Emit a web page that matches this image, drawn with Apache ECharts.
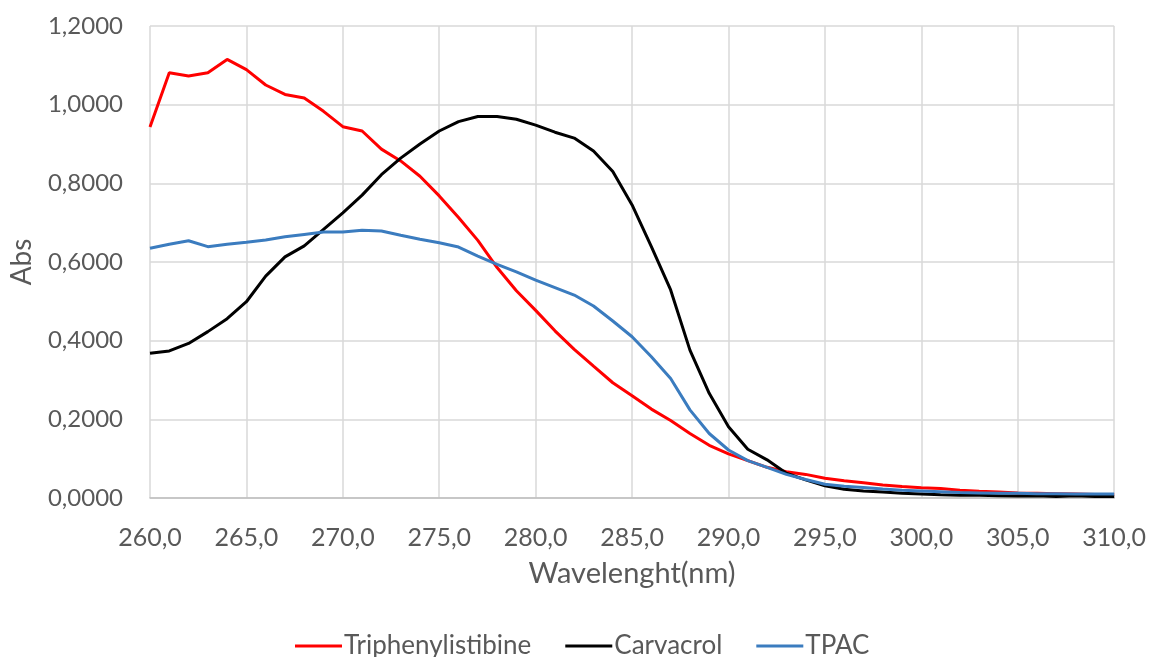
<!DOCTYPE html>
<html>
<head>
<meta charset="utf-8">
<script src="https://cdn.jsdelivr.net/npm/echarts@6/dist/echarts.min.js"></script>
<style>
html,body{margin:0;padding:0;background:#fff;}
#chart{width:1149px;height:657px;}
</style>
</head>
<body>
<div id="chart"></div>
<script>
var wavelengths = [260,261,262,263,264,265,266,267,268,269,270,271,272,273,274,275,276,277,278,279,280,281,282,283,284,285,286,287,288,289,290,291,292,293,294,295,296,297,298,299,300,301,302,303,304,305,306,307,308,309,310];
var triphenylistibine = [0.943,1.081,1.073,1.081,1.115,1.089,1.050,1.026,1.017,0.983,0.944,0.933,0.887,0.857,0.818,0.768,0.713,0.655,0.586,0.527,0.477,0.425,0.378,0.335,0.293,0.260,0.226,0.197,0.164,0.134,0.112,0.095,0.078,0.067,0.060,0.050,0.044,0.039,0.033,0.029,0.026,0.024,0.020,0.017,0.015,0.013,0.012,0.011,0.010,0.009,0.008];
var carvacrol = [0.368,0.374,0.393,0.423,0.456,0.499,0.564,0.613,0.641,0.683,0.725,0.770,0.822,0.864,0.900,0.933,0.957,0.970,0.970,0.963,0.948,0.930,0.915,0.882,0.830,0.745,0.639,0.529,0.376,0.266,0.181,0.124,0.097,0.063,0.046,0.031,0.022,0.018,0.015,0.012,0.010,0.008,0.007,0.007,0.006,0.005,0.006,0.004,0.006,0.004,0.004];
var tpac = [0.635,0.645,0.654,0.639,0.645,0.650,0.656,0.664,0.670,0.676,0.676,0.681,0.679,0.668,0.658,0.649,0.638,0.615,0.594,0.575,0.554,0.535,0.516,0.488,0.450,0.410,0.359,0.304,0.224,0.164,0.122,0.095,0.078,0.060,0.047,0.035,0.030,0.027,0.023,0.020,0.018,0.016,0.014,0.013,0.012,0.012,0.011,0.011,0.010,0.010,0.010];
var seriesNames = ['Triphenylistibine','Carvacrol','TPAC'];
var seriesColors = ['#FF0000','#000000','#3B7CBF'];
var xAxisTitle = 'Wavelenght(nm)';
var yAxisTitle = 'Abs';

function pairs(vals){ return wavelengths.map(function(w,i){ return [w, vals[i]]; }); }
var allValues = [triphenylistibine, carvacrol, tpac];

var FONT = 'Lato';
var chart = echarts.init(document.getElementById('chart'), null, {renderer:'canvas'});
chart.setOption({
  animation:false,
  backgroundColor:'#ffffff',
  textStyle:{fontFamily:FONT},
  grid:{left:149, right:34, top:26, bottom:159, containLabel:false},
  legend:{
    left:290, top:628,
    itemWidth:47, itemHeight:3, itemGap:34,
    icon:'rect',
    textStyle:{fontFamily:FONT, fontSize:26, color:'#595959', padding:[0,0,0,-3]},
    data:seriesNames
  },
  xAxis:{
    type:'value', min:260, max:310, interval:5,
    name:xAxisTitle, nameLocation:'middle', nameGap:61,
    nameTextStyle:{fontFamily:FONT, fontSize:29, color:'#595959'},
    axisLine:{show:true, lineStyle:{color:'#bfbfbf', width:1.5}},
    axisTick:{show:false},
    axisLabel:{margin:27, fontFamily:FONT, fontSize:25, color:'#595959',
      formatter:function(v){ return v.toFixed(1).replace('.',','); }},
    splitLine:{show:true, lineStyle:{color:'#d9d9d9', width:1.5}}
  },
  yAxis:{
    type:'value', min:0, max:1.2, interval:0.2,
    name:yAxisTitle, nameLocation:'middle', nameGap:114, nameRotate:90,
    nameTextStyle:{fontFamily:FONT, fontSize:28, color:'#595959'},
    axisLine:{show:false}, axisTick:{show:false},
    axisLabel:{margin:27, fontFamily:FONT, fontSize:24, color:'#595959',
      formatter:function(v){ return v.toFixed(4).replace('.',','); }},
    splitLine:{show:true, lineStyle:{color:'#d9d9d9', width:1.5}}
  },
  series: seriesNames.map(function(n,i){
    return {
      name:n, type:'line', data:pairs(allValues[i]),
      showSymbol:false, symbol:'none', smooth:false,
      lineStyle:{color:seriesColors[i], width:3},
      itemStyle:{color:seriesColors[i]}
    };
  })
});
</script>
</body>
</html>
